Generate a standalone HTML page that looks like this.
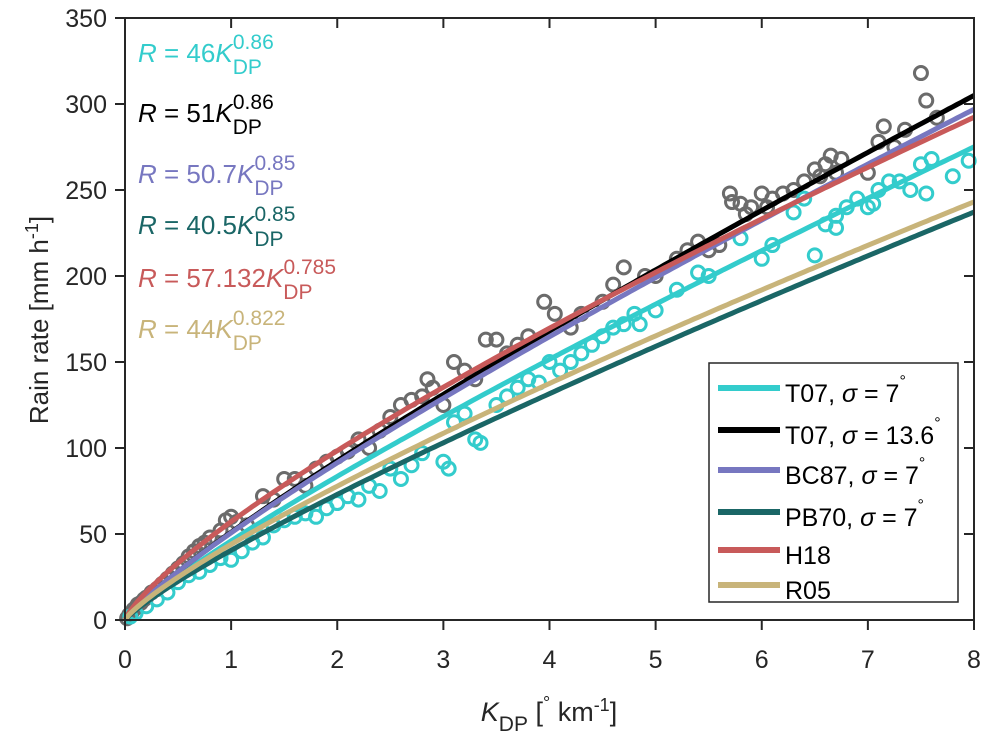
<!DOCTYPE html>
<html><head><meta charset="utf-8"><style>
body{margin:0;background:#fff;}
svg text{font-family:"Liberation Sans",sans-serif;}
</style></head><body>
<svg id="chart" width="993" height="744" viewBox="0 0 993 744">
<g id="scatter"></g>
<g id="curves"></g>
<g id="axes"></g>
<g font-size="26">
<text x="138" y="62" fill="#33CCCC"><tspan font-style="italic">R</tspan> = 46<tspan font-style="italic">K</tspan><tspan dy="12" font-size="21">DP</tspan><tspan dx="-29" dy="-25" font-size="21">0.86</tspan></text>
<text x="138" y="122" fill="#000"><tspan font-style="italic">R</tspan> = 51<tspan font-style="italic">K</tspan><tspan dy="12" font-size="21">DP</tspan><tspan dx="-29" dy="-25" font-size="21">0.86</tspan></text>
<text x="138" y="183" fill="#7777C0"><tspan font-style="italic">R</tspan> = 50.7<tspan font-style="italic">K</tspan><tspan dy="12" font-size="21">DP</tspan><tspan dx="-29" dy="-25" font-size="21">0.85</tspan></text>
<text x="138" y="234" fill="#1A6666"><tspan font-style="italic">R</tspan> = 40.5<tspan font-style="italic">K</tspan><tspan dy="12" font-size="21">DP</tspan><tspan dx="-29" dy="-25" font-size="21">0.85</tspan></text>
<text x="138" y="287" fill="#C85A5A"><tspan font-style="italic">R</tspan> = 57.132<tspan font-style="italic">K</tspan><tspan dy="12" font-size="21">DP</tspan><tspan dx="-29" dy="-25" font-size="21">0.785</tspan></text>
<text x="138" y="338" fill="#C8B47A"><tspan font-style="italic">R</tspan> = 44<tspan font-style="italic">K</tspan><tspan dy="12" font-size="21">DP</tspan><tspan dx="-29" dy="-25" font-size="21">0.822</tspan></text>
</g>
<g id="legend"></g>
<text x="48" y="320" font-size="26" fill="#262626" text-anchor="middle" transform="rotate(-90 48 320)">Rain rate [mm h<tspan dy="-10" font-size="18">-1</tspan><tspan dy="10">]</tspan></text>
<text x="549" y="721" font-size="27" fill="#262626" text-anchor="middle"><tspan font-style="italic">K</tspan><tspan dy="10" font-size="21">DP</tspan><tspan dy="-10"> [</tspan><tspan dy="-12" font-size="18">°</tspan><tspan dy="12"> km</tspan><tspan dy="-10" font-size="18">-1</tspan><tspan dy="10">]</tspan></text>
</svg>
<script>
const grayK=[0.02,0.04,0.06,0.08,0.1,0.12,0.15,0.18,0.2,0.25,0.3,0.35,0.4,0.45,0.5,0.55,0.6,0.65,0.7,0.75,0.8,0.9,0.95,1.0,1.05,1.15,1.3,1.4,1.5,1.6,1.7,1.8,1.9,2.0,2.1,2.2,2.3,2.4,2.5,2.6,2.7,2.8,2.85,2.9,3.0,3.1,3.2,3.3,3.4,3.5,3.6,3.7,3.8,3.95,4.05,4.2,4.3,4.5,4.6,4.7,4.9,5.0,5.2,5.3,5.4,5.5,5.6,5.7,5.72,5.8,5.85,5.9,6.0,6.05,6.1,6.2,6.3,6.4,6.5,6.55,6.6,6.65,6.7,6.75,7.0,7.1,7.15,7.25,7.35,7.5,7.55,7.65];
const grayR=[1,3,4,6,7,9,10,12,13,16,18,21,24,27,30,33,37,40,43,45,48,52,58,60,57,55,72,70,82,82,78,88,92,95,98,105,100,110,118,125,128,130,140,135,125,150,145,140,163,163,155,160,165,185,178,170,178,185,195,205,200,200,210,215,220,215,218,248,243,242,236,240,248,240,245,248,250,255,262,258,265,270,260,268,260,278,287,275,285,318,302,292];
const cyanK=[0.05,0.1,0.2,0.3,0.4,0.5,0.6,0.7,0.8,0.9,1.0,1.1,1.2,1.3,1.4,1.5,1.6,1.7,1.8,1.9,2.0,2.1,2.2,2.3,2.4,2.5,2.6,2.7,2.8,3.0,3.05,3.1,3.2,3.3,3.35,3.5,3.6,3.7,3.8,3.9,4.0,4.1,4.2,4.3,4.4,4.5,4.6,4.7,4.8,4.85,5.0,5.2,5.4,5.5,5.8,6.0,6.1,6.3,6.4,6.5,6.6,6.7,6.7,6.8,6.9,7.0,7.05,7.1,7.2,7.3,7.4,7.5,7.55,7.6,7.8,7.95];
const cyanR=[2,4,8,12,16,22,26,28,32,36,35,40,45,48,55,58,60,62,60,65,68,72,70,78,75,88,82,90,97,92,88,115,120,105,103,125,130,135,140,138,150,145,150,155,160,165,170,172,178,172,180,192,202,200,222,210,218,237,245,212,230,235,228,240,245,240,242,250,255,255,250,265,248,268,258,267];
const seriesNames=["T07, σ = 7","T07, σ = 13.6","BC87, σ = 7","PB70, σ = 7","H18","R05"];
const coefA=[46,51,50.7,40.5,57.132,44];
const expB=[0.86,0.86,0.85,0.85,0.785,0.822];
const xTicks=[0,1,2,3,4,5,6,7,8];
const yTicks=[0,50,100,150,200,250,300,350];
const colors=["#33CCCC","#000000","#7777C0","#1A6666","#C85A5A","#C8B47A"];
const NS="http://www.w3.org/2000/svg";
const L=125,R=974,T=18,B=620;
const sx=k=>L+(k/8)*(R-L), sy=v=>B-(v/350)*(B-T);
function mk(tag,attrs,parent){const e=document.createElementNS(NS,tag);for(const k in attrs)e.setAttribute(k,attrs[k]);parent.appendChild(e);return e;}
const sc=document.getElementById('scatter');
grayK.forEach((k,i)=>{const c=mk('circle',{cx:sx(k),cy:sy(grayR[i]),r:6.5,fill:'none',stroke:'#6B6B6B','stroke-width':3},sc);

});
cyanK.forEach((k,i)=>{const c=mk('circle',{cx:sx(k),cy:sy(cyanR[i]),r:6.5,fill:'none',stroke:'#33CCCC','stroke-width':3},sc);

});
const cv=document.getElementById('curves');
coefA.forEach((a,i)=>{let d='';for(let j=0;j<=200;j++){const k=8*j/200;d+=(j?'L':'M')+sx(k).toFixed(1)+','+sy(a*Math.pow(k,expB[i])).toFixed(1);}
const p=mk('path',{d:d,fill:'none',stroke:colors[i],'stroke-width':5},cv);

});
const ax=document.getElementById('axes');
const fr=mk('rect',{x:L,y:T,width:R-L,height:B-T,fill:'none',stroke:'#262626','stroke-width':2},ax);


xTicks.forEach(t=>{const x=sx(t);mk('line',{x1:x,x2:x,y1:B,y2:B+10,stroke:'#262626','stroke-width':2},ax);mk('line',{x1:x,x2:x,y1:T,y2:T+10,stroke:'#262626','stroke-width':2},ax);
const tx=mk('text',{x:x,y:B+48,'font-size':25,fill:'#262626','text-anchor':'middle'},ax);tx.textContent=t;

});
yTicks.forEach(t=>{const y=sy(t);mk('line',{x1:L,x2:L-10,y1:y,y2:y,stroke:'#262626','stroke-width':2},ax);mk('line',{x1:R,x2:R-10,y1:y,y2:y,stroke:'#262626','stroke-width':2},ax);
const tx=mk('text',{x:L-18,y:y+9,'font-size':25,fill:'#262626','text-anchor':'end'},ax);tx.textContent=t;

});
const lg=document.getElementById('legend');
const lb=mk('rect',{x:709,y:363,width:249,height:239,fill:'#fff',stroke:'#262626','stroke-width':1.5},lg);


const ly=[388,430,470,512,550,585];
seriesNames.forEach((n,i)=>{const y=ly[i];
const ln=mk('line',{x1:718,x2:780,y1:y,y2:y,stroke:colors[i],'stroke-width':6},lg);


const tx=mk('text',{x:785,y:y+14,'font-size':25,fill:'#000'},lg);
const m=n.match(/^(.*), σ = (.*)$/);
if(m){tx.innerHTML=m[1]+', <tspan font-style="italic">σ</tspan> = '+m[2]+'<tspan dy="-16" font-size="16">°</tspan>';}else tx.textContent=n;

});
</script>
</body></html>
